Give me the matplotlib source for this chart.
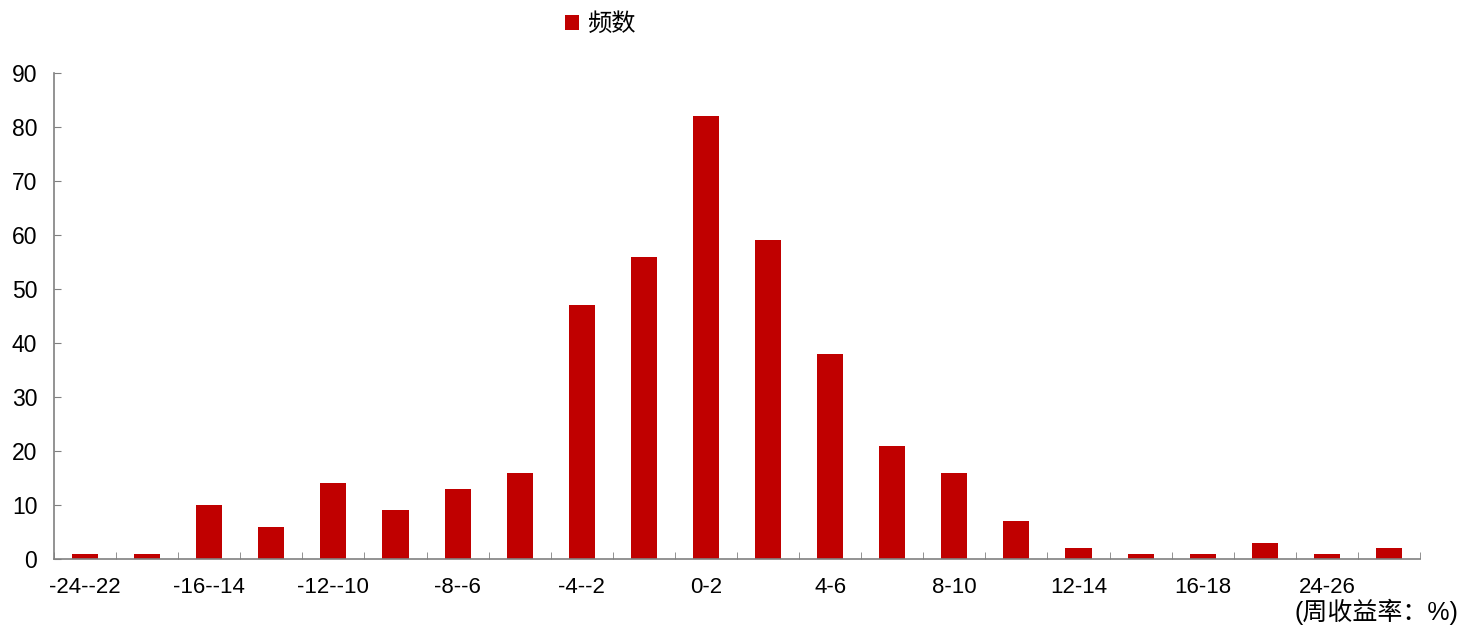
import matplotlib.pyplot as plt
import numpy as np

plt.rcParams['font.family'] = ['Liberation Sans', 'Noto Sans CJK SC']

bins = ['-24--22', '-20--18', '-16--14', '-14--12', '-12--10', '-10--8', '-8--6', '-6--4',
        '-4--2', '-2-0', '0-2', '2-4', '4-6', '6-8', '8-10', '10-12', '12-14', '14-16',
        '16-18', '20-22', '24-26', '26-28']
counts = [1, 1, 10, 6, 14, 9, 13, 16, 47, 56, 82, 59, 38, 21, 16, 7, 2, 1, 1, 3, 1, 2]

fig = plt.figure(figsize=(14.6, 6.29), dpi=100)
ax = fig.add_axes([0.037, 0.1113, 0.9356, 0.7727])

x = np.arange(len(bins))
ax.bar(x, counts, width=0.42, color='#c00000', label='频数')

ax.set_xlim(-0.5, len(bins) - 0.5)
ax.set_ylim(0, 90)
ax.set_yticks(range(0, 91, 10))

# labels on every other bin, tick marks on bin edges
ax.set_xticks(x[::2])
ax.set_xticklabels([bins[i] for i in x[::2]])
ax.set_xticks(np.arange(-0.5, len(bins), 1), minor=True)
ax.tick_params(axis='x', which='major', length=0, pad=13, labelsize=16)
ax.tick_params(axis='x', which='minor', direction='in', length=5, color='#808080')
ax.tick_params(axis='y', direction='in', length=5, color='#808080', labelsize=16.5, pad=12)

for s in ['top', 'right']:
    ax.spines[s].set_visible(False)
for s in ['left', 'bottom']:
    ax.spines[s].set_color('#808080')
    ax.spines[s].set_linewidth(1.2)

fig.text(0.999, 0.027, '(周收益率：%)', ha='right', va='center', fontsize=18)

fig.legend(loc='upper center', bbox_to_anchor=(0.411, 1.013), frameon=False,
           fontsize=17.5, handlelength=0.6, handleheight=0.6, handletextpad=0.3)

fig.savefig('out.png', dpi=100)
